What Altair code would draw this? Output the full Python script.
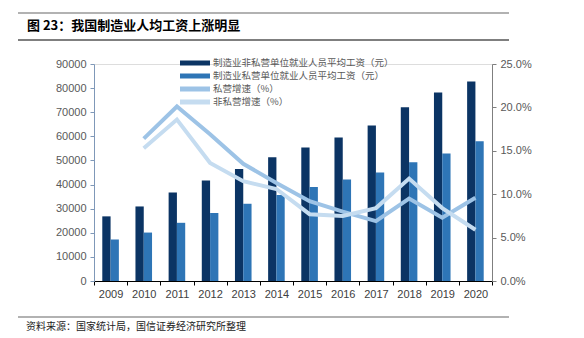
import altair as alt
import pandas as pd

years = ["2009", "2010", "2011", "2012", "2013", "2014", "2015", "2016", "2017", "2018", "2019", "2020"]
non_private_wage = [26810, 30916, 36665, 41650, 46431, 51369, 55324, 59470, 64452, 72088, 78147, 82783]
private_wage = [17260, 20090, 24138, 28215, 32035, 35653, 38948, 42073, 44991, 49275, 52858, 57910]
growth_years = ["2010", "2011", "2012", "2013", "2014", "2015", "2016", "2017", "2018", "2019", "2020"]
private_growth = [0.164, 0.201, 0.169, 0.135, 0.113, 0.092, 0.080, 0.069, 0.095, 0.073, 0.096]
non_private_growth = [0.153, 0.186, 0.136, 0.115, 0.106, 0.077, 0.075, 0.084, 0.118, 0.084, 0.059]

s_np = "制造业非私营单位就业人员平均工资（元）"
s_p = "制造业私营单位就业人员平均工资（元）"
s_pg = "私营增速（%）"
s_npg = "非私营增速（%）"
series_order = [s_np, s_p, s_pg, s_npg]
series_colors = ["#0b3464", "#2e75b6", "#9dc3e6", "#c5dcf0"]

bar_df = pd.DataFrame(
    [{"year": y, "series": s_np, "value": v} for y, v in zip(years, non_private_wage)]
    + [{"year": y, "series": s_p, "value": v} for y, v in zip(years, private_wage)]
)
line_df = pd.DataFrame(
    [{"year": y, "series": s_pg, "rate": v} for y, v in zip(growth_years, private_growth)]
    + [{"year": y, "series": s_npg, "rate": v} for y, v in zip(growth_years, non_private_growth)]
)

NUM_FONT = "Liberation Sans"
CJK = "Noto Sans CJK SC"

xenc = alt.X(
    "year:O", sort=years, title=None,
    scale=alt.Scale(domain=years, paddingInner=0, paddingOuter=0),
    axis=alt.Axis(labelAngle=0, tickBand="extent", domainColor="#000000", tickColor="#000000",
                  labelColor="#404040", labelFontSize=11, labelFont=NUM_FONT, tickSize=4,
                  labelPadding=3, domainWidth=1),
)
color_enc = alt.Color(
    "series:N", sort=series_order,
    scale=alt.Scale(domain=series_order, range=series_colors),
    legend=alt.Legend(
        title=None, orient="none", legendX=96, legendY=-6,
        symbolType="M-3,-0.5L3,-0.5L3,0.5L-3,0.5Z", symbolSize=100,
        symbolStrokeWidth=0, labelFont=CJK, labelFontSize=9.5, labelColor="#595959",
        labelOffset=13, rowPadding=3, labelLimit=300, padding=0,
    ),
)

bars = alt.Chart(bar_df).mark_bar().encode(
    x=xenc,
    xOffset=alt.XOffset("series:N", sort=[s_np, s_p],
                        scale=alt.Scale(domain=[s_np, s_p], paddingInner=0, paddingOuter=1)),
    y=alt.Y("value:Q", title=None,
            scale=alt.Scale(domain=[0, 90000]),
            axis=alt.Axis(orient="left", values=list(range(0, 90001, 10000)), format="d",
                          domainColor="#7f98b8", tickColor="#7f98b8", labelColor="#595959",
                          labelFontSize=11, labelFont=NUM_FONT, tickSize=4, grid=False,
                          labelPadding=4)),
    color=color_enc,
)

lines = alt.Chart(line_df).mark_line(strokeWidth=4).encode(
    x=xenc,
    y=alt.Y("rate:Q", title=None,
            scale=alt.Scale(domain=[0, 0.25]),
            axis=alt.Axis(orient="right", values=[0, 0.05, 0.10, 0.15, 0.20, 0.25], format=".1%",
                          domainColor="#7f7f7f", tickColor="#7f7f7f", labelColor="#595959",
                          labelFontSize=11, labelFont=NUM_FONT, tickSize=4, grid=False,
                          labelPadding=4)),
    color=color_enc,
)

one = pd.DataFrame({"a": [0]})
top_rule = alt.Chart(one).mark_rule(color="#999999", strokeWidth=1.5).encode(
    x=alt.value(-76), x2=alt.value(415), y=alt.value(-51))
mid_rule = alt.Chart(one).mark_rule(color="#000000", strokeWidth=1.2).encode(
    x=alt.value(-76), x2=alt.value(415), y=alt.value(-24))
bot_rule = alt.Chart(one).mark_rule(color="#999999", strokeWidth=1.5).encode(
    x=alt.value(-76), x2=alt.value(415), y=alt.value(253))
title_text = alt.Chart(one).mark_text(
    text="图 23：我国制造业人均工资上涨明显", align="left", baseline="middle",
    font=CJK, fontSize=13, fontWeight="bold", color="#000000").encode(
    x=alt.value(-67), y=alt.value(-38))
source_text = alt.Chart(one).mark_text(
    text="资料来源：国家统计局，国信证券经济研究所整理", align="left", baseline="middle",
    font=CJK, fontSize=10, color="#222222").encode(
    x=alt.value(-68), y=alt.value(263))

chart = alt.layer(bars, lines, top_rule, mid_rule, bot_rule, title_text, source_text).resolve_scale(
    y="independent"
).properties(
    width=398, height=217,
    autosize=alt.AutoSizeParams(type="none"),
    padding={"left": 94, "top": 64, "right": 92, "bottom": 57},
).configure_view(stroke=None).configure(background="#ffffff")

chart.save("out.html", embed_options={"renderer": "svg", "actions": False})
